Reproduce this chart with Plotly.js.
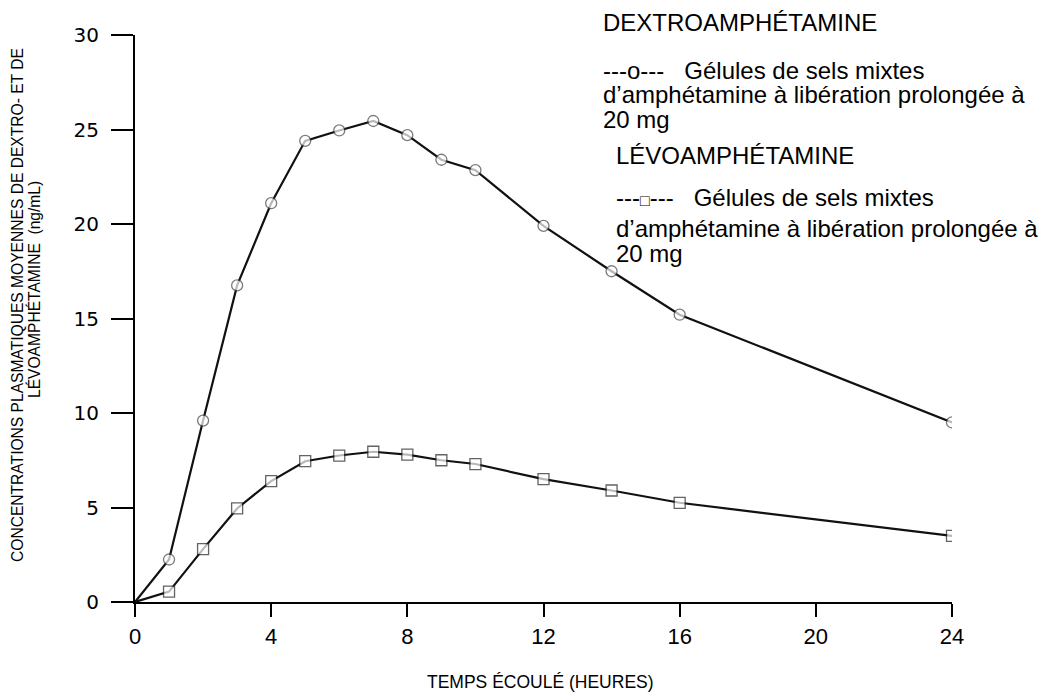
<!DOCTYPE html>
<html>
<head>
<meta charset="utf-8">
<script src="https://cdn.plot.ly/plotly-3.0.1.min.js"></script>
<style>html,body{margin:0;padding:0;background:#fff}#chart{width:1044px;height:696px}</style>
</head>
<body>
<div id="chart"></div>
<script>
// ---- data ----
const hours = [0, 1, 2, 3, 4, 5, 6, 7, 8, 9, 10, 12, 14, 16, 24];
const dextro = [0, 2.25, 9.6, 16.75, 21.1, 24.4, 24.95, 25.45, 24.7, 23.4, 22.85, 19.9, 17.5, 15.2, 9.5];
const levo = [0, 0.55, 2.8, 4.95, 6.4, 7.45, 7.75, 7.95, 7.8, 7.5, 7.3, 6.5, 5.9, 5.25, 3.5];
const xTicks = [0, 4, 8, 12, 16, 20, 24];
const yTicks = [0, 5, 10, 15, 20, 25, 30];
const xTitle = 'TEMPS ÉCOULÉ (HEURES)';
const yTitleLines = ['CONCENTRATIONS PLASMATIQUES MOYENNES DE DEXTRO- ET DE', 'LÉVOAMPHÉTAMINE  (ng/mL)'];
const legendDextro = ['DEXTROAMPHÉTAMINE', '---o---\u00a0\u00a0 Gélules de sels mixtes', 'd’amphétamine à libération prolongée à', '20 mg'];
const legendLevo = ['LÉVOAMPHÉTAMINE', '---<span style="font-size:16px">\u25a1</span>---\u00a0\u00a0 Gélules de sels mixtes', 'd’amphétamine à libération prolongée à', '20 mg'];

// ---- layout geometry ----
const W = 1044, H = 696;
const M = {l: 135, r: 92, t: 35, b: 94};
const PW = W - M.l - M.r, PH = H - M.t - M.b;
const px = v => (v - M.l) / PW;
const py = v => (H - M.b - v) / PH;

const mk = (n) => hours.map((h, i) => i === 0 ? 0 : n);

const traces = [
  {x: hours, y: dextro, type: 'scatter', mode: 'lines+markers', name: 'dextro',
   line: {color: '#111', width: 2.2},
   marker: {symbol: 'circle', size: mk(11), color: '#fff', line: {color: '#444', width: 1.3}}},
  {x: hours, y: levo, type: 'scatter', mode: 'lines+markers', name: 'levo',
   line: {color: '#111', width: 2.2},
   marker: {symbol: 'square', size: mk(11), color: '#fff', line: {color: '#222', width: 1.3}}}
];

const legFont = {family: 'Liberation Sans, Arial, sans-serif', size: 24, color: '#000'};
const annotations = [];
const dexBase = [30, 78, 102, 127];
legendDextro.forEach((t, i) => annotations.push({xref: 'paper', yref: 'paper', x: px(601), y: py(dexBase[i] - 8),
  xanchor: 'left', yanchor: 'middle', text: t, showarrow: false, font: legFont}));
const levBase = [163, 205, 236, 261];
legendLevo.forEach((t, i) => annotations.push({xref: 'paper', yref: 'paper', x: px(614), y: py(levBase[i] - 8),
  xanchor: 'left', yanchor: 'middle', text: t, showarrow: false, font: legFont}));

const titleFam = 'Liberation Sans Narrow, Arial Narrow, Liberation Sans, sans-serif';
annotations.push({xref: 'paper', yref: 'paper', x: px(540), y: py(682), xanchor: 'center', yanchor: 'middle',
  text: xTitle, showarrow: false, font: {family: titleFam, size: 17.5, color: '#000'}});
annotations.push({xref: 'paper', yref: 'paper', x: px(17), y: py(305), xanchor: 'center', yanchor: 'middle',
  text: yTitleLines[0], textangle: -90, showarrow: false, font: {family: titleFam, size: 15.6, color: '#000'}});
annotations.push({xref: 'paper', yref: 'paper', x: px(34), y: py(290), xanchor: 'center', yanchor: 'middle',
  text: yTitleLines[1], textangle: -90, showarrow: false, font: {family: titleFam, size: 15.6, color: '#000'}});

const layout = {
  width: W, height: H, margin: M, showlegend: false,
  paper_bgcolor: '#fff', plot_bgcolor: '#fff',
  xaxis: {range: [0, 24], tickvals: xTicks, ticktext: xTicks.map(String), showgrid: false, zeroline: false,
    showline: true, linecolor: '#000', linewidth: 2, ticks: 'outside', ticklen: 13, tickwidth: 2, tickcolor: '#000',
    tickfont: {family: 'Liberation Sans, Arial, sans-serif', size: 22, color: '#000'}, ticklabelstandoff: 1},
  yaxis: {range: [0, 30], tickvals: yTicks, ticktext: yTicks.map(String), showgrid: false, zeroline: false,
    showline: true, linecolor: '#000', linewidth: 2, ticks: 'outside', ticklen: 22, tickwidth: 2, tickcolor: '#000',
    tickfont: {family: 'DejaVu Sans, sans-serif', size: 20, color: '#000'}, ticklabelstandoff: 8},
  annotations: annotations
};

Plotly.newPlot('chart', traces, layout, {staticPlot: true, displayModeBar: false});
</script>
</body>
</html>
